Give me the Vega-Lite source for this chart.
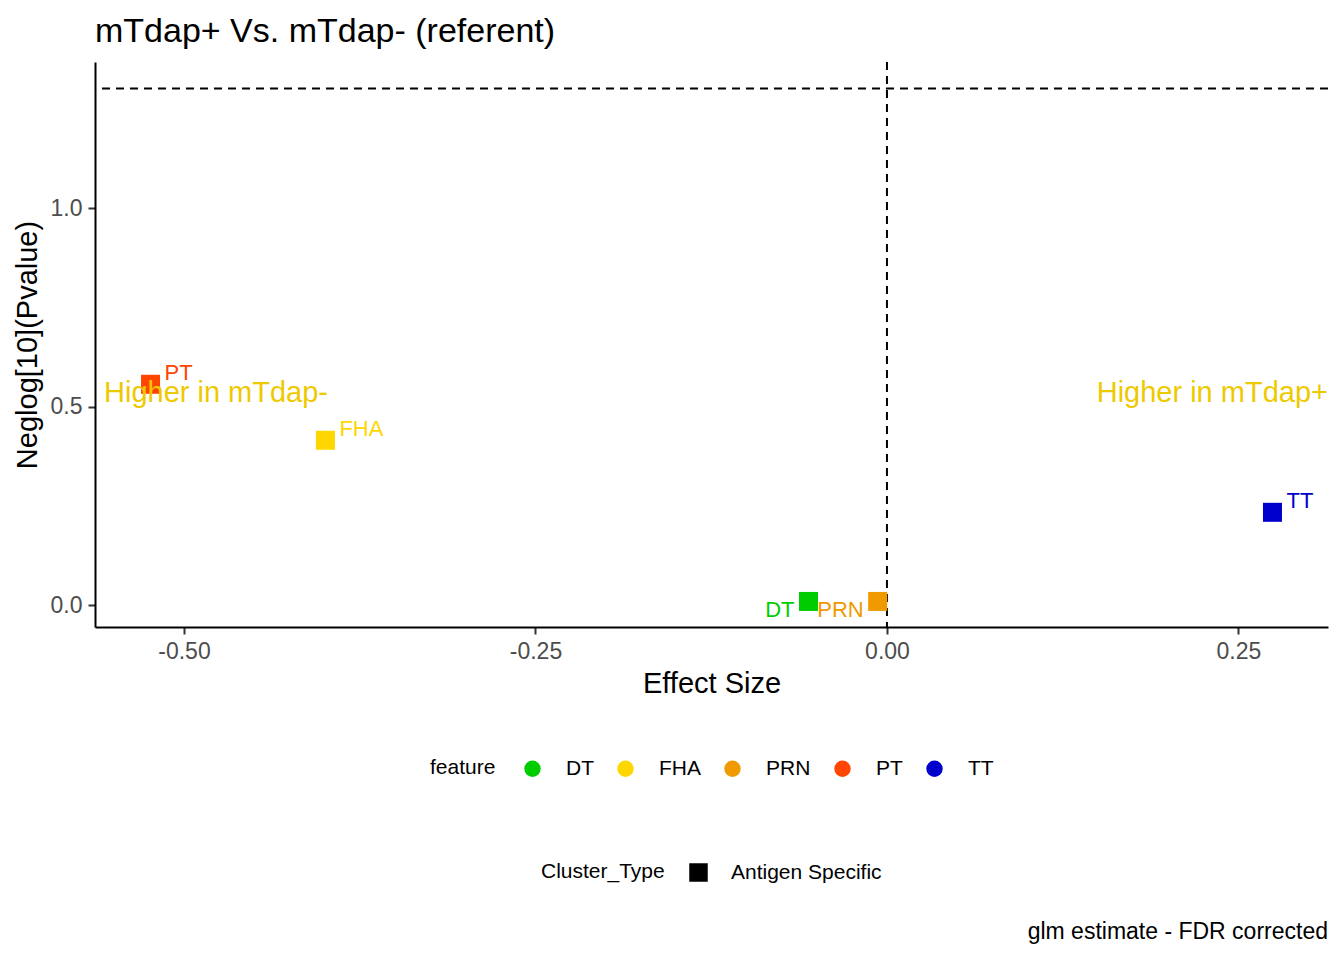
{
  "$schema": "https://vega.github.io/schema/vega-lite/v6.json",
  "autosize": {"type": "none"},
  "padding": {"left": 95, "top": 62, "right": 16, "bottom": 333},
  "width": 1233,
  "height": 565,
  "background": "white",
  "title": {
    "text": "mTdap+ Vs. mTdap- (referent)",
    "anchor": "start",
    "frame": "group",
    "fontSize": 34,
    "fontWeight": "normal",
    "color": "black",
    "baseline": "alphabetic",
    "offset": -15
  },
  "config": {
    "font": "Liberation Sans",
    "view": {"stroke": null},
    "axis": {
      "grid": false,
      "domainColor": "black",
      "domainWidth": 2,
      "tickColor": "#333333",
      "tickWidth": 2,
      "tickSize": 7,
      "labelFontSize": 23,
      "labelColor": "#4D4D4D",
      "titleFontSize": 29,
      "titleFontWeight": "normal",
      "titleColor": "black"
    },
    "legend": {
      "labelFontSize": 21,
      "titleFontSize": 21,
      "titleFontWeight": "normal",
      "titleColor": "black",
      "labelColor": "black"
    }
  },
  "datasets": {
    "antigens": [
      {"feature": "DT", "Cluster_Type": "Antigen Specific", "effect": -0.0558, "neglog": 0.009},
      {"feature": "FHA", "Cluster_Type": "Antigen Specific", "effect": -0.3994, "neglog": 0.415},
      {"feature": "PRN", "Cluster_Type": "Antigen Specific", "effect": -0.0066, "neglog": 0.009},
      {"feature": "PT", "Cluster_Type": "Antigen Specific", "effect": -0.5238, "neglog": 0.556},
      {"feature": "TT", "Cluster_Type": "Antigen Specific", "effect": 0.2742, "neglog": 0.2335}
    ],
    "cutoffs": [
      {"effect": 0, "neglog": 1.30103}
    ],
    "notes": [
      {"note": "Higher in mTdap-", "side": "left", "effect": -0.5569, "neglog": 0.512},
      {"note": "Higher in mTdap+", "side": "right", "effect": 0.3137, "neglog": 0.512}
    ],
    "caption": [
      {"note": "glm estimate - FDR corrected", "effect": 0.3137, "neglog": -0.842}
    ]
  },
  "layer": [
    {
      "data": {"name": "cutoffs"},
      "mark": {"type": "rule", "strokeDash": [8, 6], "strokeWidth": 2, "color": "black"},
      "encoding": {"y": {"field": "neglog", "type": "quantitative"}}
    },
    {
      "data": {"name": "cutoffs"},
      "mark": {"type": "rule", "strokeDash": [8, 6], "strokeWidth": 2, "color": "black"},
      "encoding": {"x": {"field": "effect", "type": "quantitative"}}
    },
    {
      "data": {"name": "antigens"},
      "mark": {"type": "point", "filled": true, "size": 361, "opacity": 1},
      "encoding": {
        "x": {
          "field": "effect",
          "type": "quantitative",
          "title": "Effect Size",
          "scale": {"domain": [-0.5633, 0.3137], "nice": false, "zero": false},
          "axis": {
            "values": [-0.5, -0.25, 0, 0.25],
            "labelExpr": "replace(format(datum.value, '.2f'), '\u2212', '-')",
            "labelPadding": 6,
            "titlePadding": 6
          }
        },
        "y": {
          "field": "neglog",
          "type": "quantitative",
          "title": "Neglog[10](Pvalue)",
          "scale": {"domain": [-0.0554, 1.3678], "nice": false, "zero": false},
          "axis": {
            "values": [0, 0.5, 1],
            "format": ".1f",
            "labelPadding": 6,
            "titlePadding": 8
          }
        },
        "color": {
          "field": "feature",
          "type": "nominal",
          "scale": {
            "domain": ["DT", "FHA", "PRN", "PT", "TT"],
            "range": ["#00CD00", "#FFD700", "#EE9A00", "#FF4500", "#0000CD"]
          },
          "legend": {
            "title": "feature",
            "orient": "none",
            "direction": "horizontal",
            "legendX": 335,
            "legendY": 696,
            "titleOrient": "left",
            "titlePadding": 26,
            "symbolType": "circle",
            "symbolSize": 269,
            "symbolStrokeWidth": 0,
            "symbolOpacity": 1,
            "labelOffset": 23,
            "columnPadding": 21
          }
        },
        "shape": {
          "field": "Cluster_Type",
          "type": "nominal",
          "scale": {"domain": ["Antigen Specific"], "range": ["square"]},
          "legend": {
            "title": "Cluster_Type",
            "orient": "none",
            "direction": "horizontal",
            "legendX": 446,
            "legendY": 800,
            "titleOrient": "left",
            "titlePadding": 23,
            "symbolSize": 342,
            "symbolFillColor": "black",
            "symbolStrokeWidth": 0,
            "symbolOpacity": 1,
            "labelOffset": 22,
            "encode": {"symbols": {"update": {"fill": {"value": "black"}, "stroke": {"value": "black"}}}}
          }
        }
      }
    },
    {
      "data": {"name": "antigens"},
      "transform": [{"filter": "datum.feature != 'DT' && datum.feature != 'PRN'"}],
      "mark": {"type": "text", "align": "left", "baseline": "middle", "dx": 14, "dy": -11, "fontSize": 22},
      "encoding": {
        "x": {"field": "effect", "type": "quantitative"},
        "y": {"field": "neglog", "type": "quantitative"},
        "text": {"field": "feature"},
        "color": {"field": "feature", "type": "nominal", "legend": null}
      }
    },
    {
      "data": {"name": "antigens"},
      "transform": [{"filter": "datum.feature == 'DT' || datum.feature == 'PRN'"}],
      "mark": {"type": "text", "align": "right", "baseline": "middle", "dx": -14, "dy": 9, "fontSize": 22},
      "encoding": {
        "x": {"field": "effect", "type": "quantitative"},
        "y": {"field": "neglog", "type": "quantitative"},
        "text": {"field": "feature"},
        "color": {"field": "feature", "type": "nominal", "legend": null}
      }
    },
    {
      "data": {"name": "notes"},
      "transform": [{"filter": "datum.side == 'left'"}],
      "mark": {"type": "text", "align": "left", "baseline": "alphabetic", "fontSize": 29, "color": "#EEC900"},
      "encoding": {
        "x": {"field": "effect", "type": "quantitative"},
        "y": {"field": "neglog", "type": "quantitative"},
        "text": {"field": "note"}
      }
    },
    {
      "data": {"name": "notes"},
      "transform": [{"filter": "datum.side == 'right'"}],
      "mark": {"type": "text", "align": "right", "baseline": "alphabetic", "fontSize": 29, "color": "#EEC900"},
      "encoding": {
        "x": {"field": "effect", "type": "quantitative"},
        "y": {"field": "neglog", "type": "quantitative"},
        "text": {"field": "note"}
      }
    },
    {
      "data": {"name": "caption"},
      "mark": {"type": "text", "align": "right", "baseline": "alphabetic", "fontSize": 23, "color": "black"},
      "encoding": {
        "x": {"field": "effect", "type": "quantitative"},
        "y": {"field": "neglog", "type": "quantitative"},
        "text": {"field": "note"}
      }
    }
  ]
}
